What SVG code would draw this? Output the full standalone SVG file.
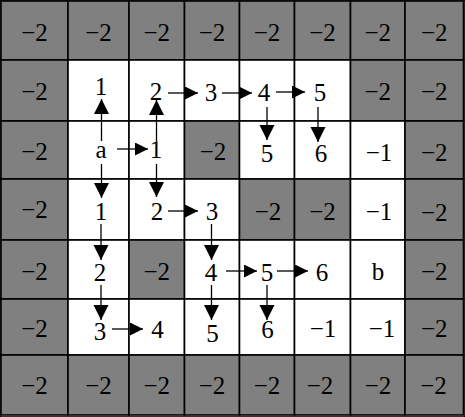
<svg xmlns="http://www.w3.org/2000/svg" width="465" height="417" viewBox="0 0 465 417" font-family="Liberation Serif, Times New Roman, serif">
<style>
rect{stroke:#000;stroke-width:1.6}
.g{fill:#808080}
.w{fill:#fff}
text{font-family:'Liberation Serif','Times New Roman',serif;font-size:25px;fill:#000;text-anchor:middle}
.c path{stroke:#000;stroke-width:1.3;fill:none}
</style>
<defs>
<marker id="ah" markerUnits="userSpaceOnUse" markerWidth="14" markerHeight="14" refX="13" refY="6.5" orient="auto">
<path d="M0,0 L13,6.5 L0,13 Z" fill="#000"/>
</marker>
<marker id="av" markerUnits="userSpaceOnUse" markerWidth="16" markerHeight="16" refX="15" refY="7.5" orient="auto">
<path d="M0,0 L15,7.5 L0,15 Z" fill="#000"/>
</marker>
</defs>
<rect x="0" y="0" width="465" height="417" fill="#fff" stroke="none"/>
<!-- row 0 -->
<g id="r0c0"><rect class="g" x="1" y="1" width="67" height="59"/><text x="34.5" y="41">−2</text></g>
<g id="r0c1"><rect class="g" x="68" y="1" width="61" height="59"/><text x="98.5" y="41">−2</text></g>
<g id="r0c2"><rect class="g" x="129" y="1" width="55.5" height="59"/><text x="156.8" y="41">−2</text></g>
<g id="r0c3"><rect class="g" x="184.5" y="1" width="55" height="59"/><text x="212" y="41">−2</text></g>
<g id="r0c4"><rect class="g" x="239.5" y="1" width="55" height="59"/><text x="267" y="41">−2</text></g>
<g id="r0c5"><rect class="g" x="294.5" y="1" width="56" height="59"/><text x="322.5" y="41">−2</text></g>
<g id="r0c6"><rect class="g" x="350.5" y="1" width="54.5" height="59"/><text x="377.8" y="41">−2</text></g>
<g id="r0c7"><rect class="g" x="405" y="1" width="58.5" height="59"/><text x="434.2" y="41">−2</text></g>
<!-- row 1 -->
<g id="r1c0"><rect class="g" x="1" y="60" width="67" height="61"/><text x="34.5" y="100">−2</text></g>
<g id="r1c1"><rect class="w" x="68" y="60" width="61" height="61"/><text x="101" y="95">1</text></g>
<g id="r1c2"><rect class="w" x="129" y="60" width="55.5" height="61"/><text x="156" y="100">2</text></g>
<g id="r1c3"><rect class="w" x="184.5" y="60" width="55" height="61"/><text x="211" y="101">3</text></g>
<g id="r1c4"><rect class="w" x="239.5" y="60" width="55" height="61"/><text x="264" y="101">4</text></g>
<g id="r1c5"><rect class="w" x="294.5" y="60" width="56" height="61"/><text x="320" y="101">5</text></g>
<g id="r1c6"><rect class="g" x="350.5" y="60" width="54.5" height="61"/><text x="377.8" y="100">−2</text></g>
<g id="r1c7"><rect class="g" x="405" y="60" width="58.5" height="61"/><text x="434.2" y="100">−2</text></g>
<!-- row 2 -->
<g id="r2c0"><rect class="g" x="1" y="121" width="67" height="58"/><text x="34.5" y="160">−2</text></g>
<g id="r2c1"><rect class="w" x="68" y="121" width="61" height="58"/><text x="101" y="158">a</text></g>
<g id="r2c2"><rect class="w" x="129" y="121" width="55.5" height="58"/><text x="156" y="158">1</text></g>
<g id="r2c3"><rect class="g" x="184.5" y="121" width="55" height="58"/><text x="213" y="160">−2</text></g>
<g id="r2c4"><rect class="w" x="239.5" y="121" width="55" height="58"/><text x="267" y="162">5</text></g>
<g id="r2c5"><rect class="w" x="294.5" y="121" width="56" height="58"/><text x="321" y="162">6</text></g>
<g id="r2c6"><rect class="w" x="350.5" y="121" width="54.5" height="58"/><text x="379" y="161">−1</text></g>
<g id="r2c7"><rect class="g" x="405" y="121" width="58.5" height="58"/><text x="434.2" y="161">−2</text></g>
<!-- row 3 -->
<g id="r3c0"><rect class="g" x="1" y="179" width="67" height="61"/><text x="34.5" y="218">−2</text></g>
<g id="r3c1"><rect class="w" x="68" y="179" width="61" height="61"/><text x="101" y="220">1</text></g>
<g id="r3c2"><rect class="w" x="129" y="179" width="55.5" height="61"/><text x="157" y="220">2</text></g>
<g id="r3c3"><rect class="w" x="184.5" y="179" width="55" height="61"/><text x="212" y="220">3</text></g>
<g id="r3c4"><rect class="g" x="239.5" y="179" width="55" height="61"/><text x="268" y="220">−2</text></g>
<g id="r3c5"><rect class="g" x="294.5" y="179" width="56" height="61"/><text x="322.5" y="220">−2</text></g>
<g id="r3c6"><rect class="w" x="350.5" y="179" width="54.5" height="61"/><text x="379" y="220">−1</text></g>
<g id="r3c7"><rect class="g" x="405" y="179" width="58.5" height="61"/><text x="434.2" y="221">−2</text></g>
<!-- row 4 -->
<g id="r4c0"><rect class="g" x="1" y="240" width="67" height="59"/><text x="34.5" y="280">−2</text></g>
<g id="r4c1"><rect class="w" x="68" y="240" width="61" height="59"/><text x="100" y="281">2</text></g>
<g id="r4c2"><rect class="g" x="129" y="240" width="55.5" height="59"/><text x="156.8" y="280">−2</text></g>
<g id="r4c3"><rect class="w" x="184.5" y="240" width="55" height="59"/><text x="211" y="281">4</text></g>
<g id="r4c4"><rect class="w" x="239.5" y="240" width="55" height="59"/><text x="267" y="281">5</text></g>
<g id="r4c5"><rect class="w" x="294.5" y="240" width="56" height="59"/><text x="322" y="281">6</text></g>
<g id="r4c6"><rect class="w" x="350.5" y="240" width="54.5" height="59"/><text x="378" y="280">b</text></g>
<g id="r4c7"><rect class="g" x="405" y="240" width="58.5" height="59"/><text x="434.2" y="280">−2</text></g>
<!-- row 5 -->
<g id="r5c0"><rect class="g" x="1" y="299" width="67" height="56"/><text x="34.5" y="337">−2</text></g>
<g id="r5c1"><rect class="w" x="68" y="299" width="61" height="56"/><text x="100" y="340">3</text></g>
<g id="r5c2"><rect class="w" x="129" y="299" width="55.5" height="56"/><text x="157.5" y="338">4</text></g>
<g id="r5c3"><rect class="w" x="184.5" y="299" width="55" height="56"/><text x="212.5" y="342">5</text></g>
<g id="r5c4"><rect class="w" x="239.5" y="299" width="55" height="56"/><text x="267.5" y="338">6</text></g>
<g id="r5c5"><rect class="w" x="294.5" y="299" width="56" height="56"/><text x="323" y="337">−1</text></g>
<g id="r5c6"><rect class="w" x="350.5" y="299" width="54.5" height="56"/><text x="382" y="337">−1</text></g>
<g id="r5c7"><rect class="g" x="405" y="299" width="58.5" height="56"/><text x="434.2" y="337">−2</text></g>
<!-- row 6 -->
<g id="r6c0"><rect class="g" x="1" y="355" width="67" height="60"/><text x="34.5" y="394">−2</text></g>
<g id="r6c1"><rect class="g" x="68" y="355" width="61" height="60"/><text x="98.5" y="394">−2</text></g>
<g id="r6c2"><rect class="g" x="129" y="355" width="55.5" height="60"/><text x="156.8" y="394">−2</text></g>
<g id="r6c3"><rect class="g" x="184.5" y="355" width="55" height="60"/><text x="212" y="394">−2</text></g>
<g id="r6c4"><rect class="g" x="239.5" y="355" width="55" height="60"/><text x="267" y="394">−2</text></g>
<g id="r6c5"><rect class="g" x="294.5" y="355" width="56" height="60"/><text x="320" y="394">−2</text></g>
<g id="r6c6"><rect class="g" x="350.5" y="355" width="54.5" height="60"/><text x="378" y="394">−2</text></g>
<g id="r6c7"><rect class="g" x="405" y="355" width="58.5" height="60"/><text x="433.5" y="394">−2</text></g>
<g id="connectors" class="c">
<path marker-end="url(#ah)" d="M168,93 L198,93"/>
<path marker-end="url(#ah)" d="M222,93 L252,93"/>
<path marker-end="url(#ah)" d="M276,92 L305,92"/>
<path marker-end="url(#ah)" d="M117,149 L148,149"/>
<path marker-end="url(#ah)" d="M168,211 L198,211"/>
<path marker-end="url(#ah)" d="M226,271 L257,271"/>
<path marker-end="url(#ah)" d="M277,271 L308,271"/>
<path marker-end="url(#ah)" d="M112,329 L143,329"/>
<path marker-end="url(#av)" d="M101.5,141 L101.5,99"/>
<path marker-end="url(#av)" d="M156.5,141 L156.5,100"/>
<path marker-end="url(#av)" d="M267,107 L267,140"/>
<path marker-end="url(#av)" d="M318,107 L318,142"/>
<path marker-end="url(#av)" d="M101.5,164 L101.5,198"/>
<path marker-end="url(#av)" d="M156.5,164 L156.5,197"/>
<path marker-end="url(#av)" d="M101,224 L101,260"/>
<path marker-end="url(#av)" d="M211.5,224 L211.5,260"/>
<path marker-end="url(#av)" d="M101,285 L101,320"/>
<path marker-end="url(#av)" d="M211.5,285 L211.5,320"/>
<path marker-end="url(#av)" d="M267,285 L267,320"/>
</g>
</svg>
